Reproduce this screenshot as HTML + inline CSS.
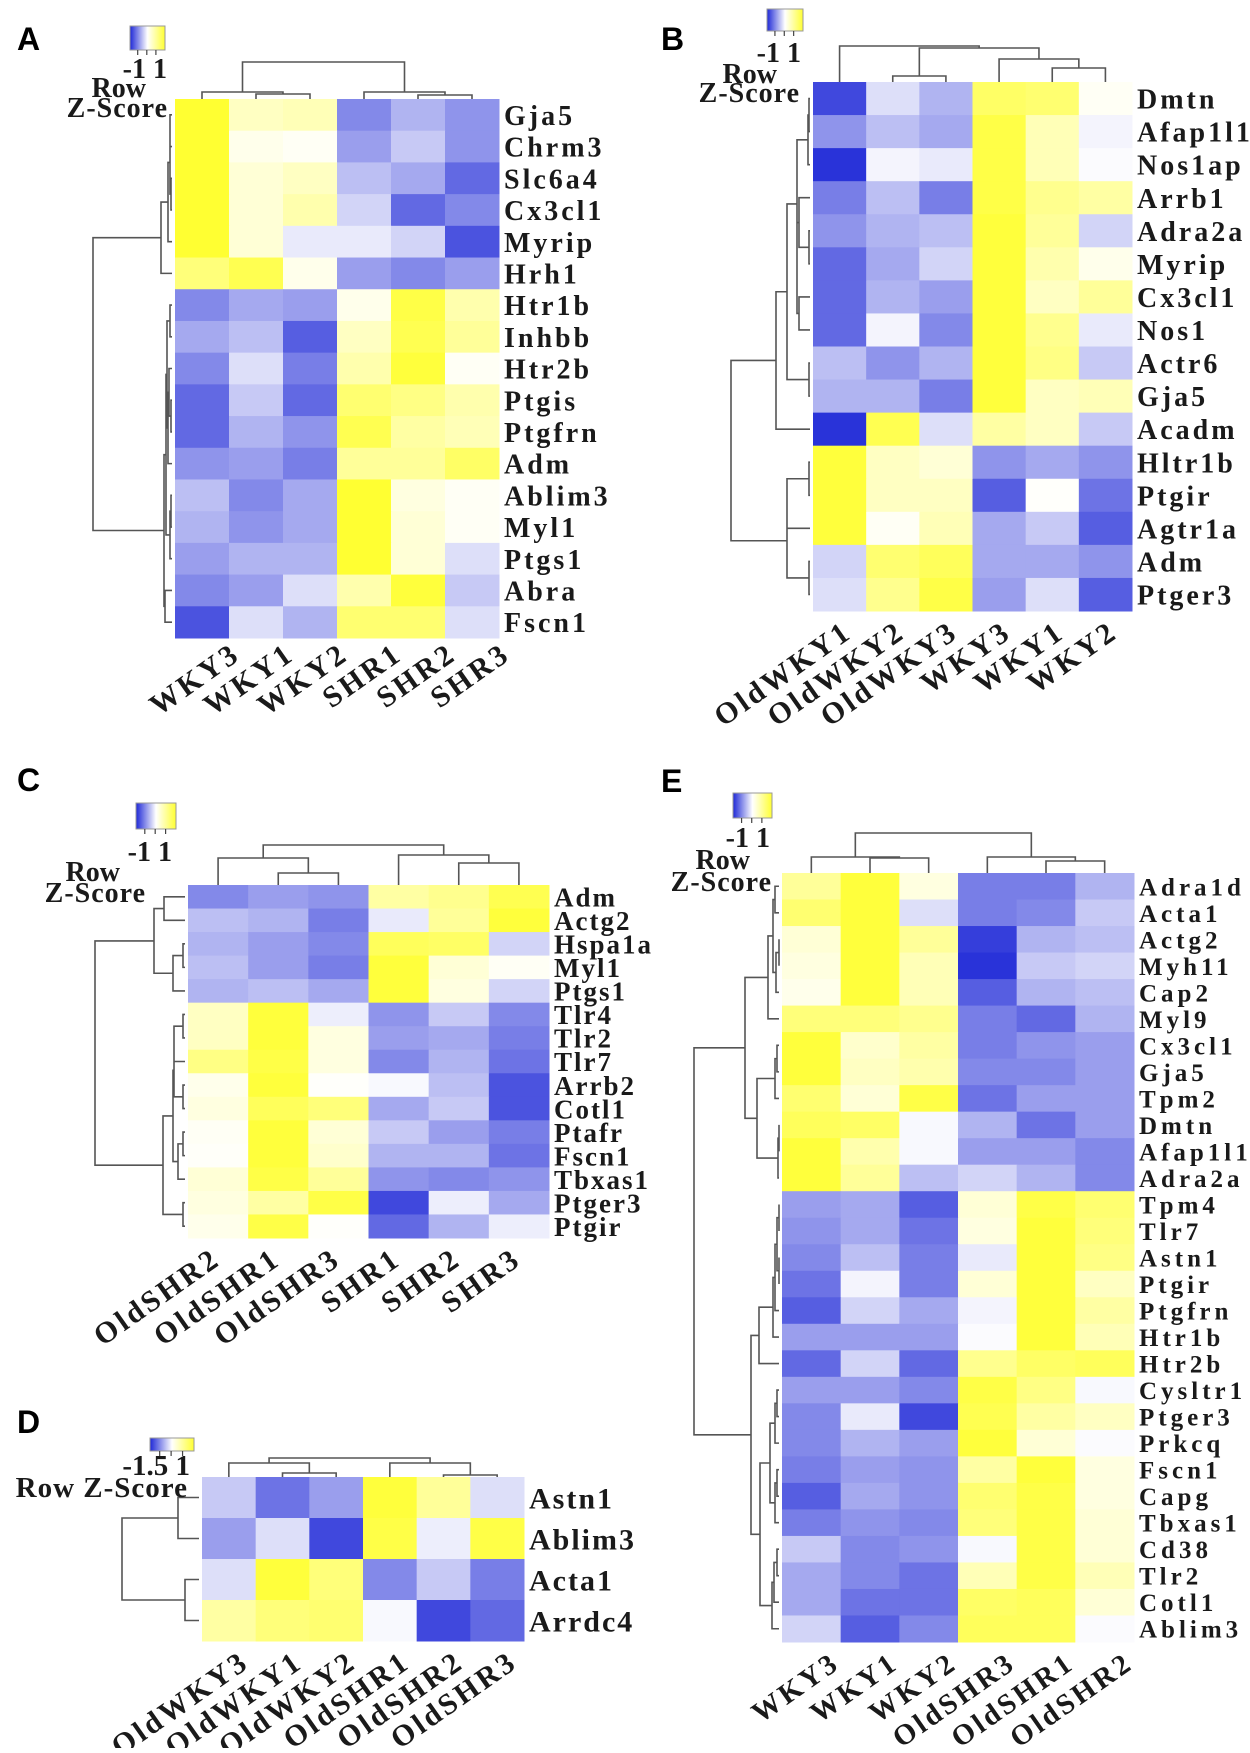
<!DOCTYPE html>
<html><head><meta charset="utf-8"><style>
html,body{margin:0;padding:0;background:#fff;}
svg text{font-family:"Liberation Serif",serif;font-weight:bold;fill:#1a1a1a;}
.pl{font-family:"Liberation Sans",sans-serif !important;fill:#000 !important;}
</style></head><body>
<svg id="fig" xmlns="http://www.w3.org/2000/svg" width="1250" height="1748" viewBox="0 0 1250 1748">
<defs><linearGradient id="zg" x1="0" x2="1" y1="0" y2="0"><stop offset="0" stop-color="#1e28d7"/><stop offset="0.5" stop-color="#ffffff"/><stop offset="1" stop-color="#ffff32"/></linearGradient></defs>
</svg>
<script>
// ---- Panel A data ----
const colsA=["WKY3","WKY1","WKY2","SHR1","SHR2","SHR3"];
const rowsA=["Gja5","Chrm3","Slc6a4","Cx3cl1","Myrip","Hrh1","Htr1b","Inhbb","Htr2b","Ptgis","Ptgfrn","Adm","Ablim3","Myl1","Ptgs1","Abra","Fscn1"];
const valsA=[[1,.3,.35,-.55,-.35,-.5],[1,.1,.05,-.45,-.25,-.5],[1,.2,.3,-.3,-.4,-.7],[1,.2,.4,-.2,-.7,-.55],[1,.2,-.1,-.1,-.2,-.8],[.65,.85,.1,-.45,-.55,-.45],[-.55,-.4,-.45,.1,.9,.4],[-.4,-.3,-.75,.3,.85,.5],[-.55,-.15,-.6,.4,.95,.05],[-.7,-.25,-.7,.7,.6,.4],[-.7,-.35,-.5,.85,.45,.35],[-.5,-.45,-.6,.5,.5,.75],[-.3,-.55,-.4,1,.15,.05],[-.35,-.5,-.4,1,.2,.05],[-.45,-.35,-.35,1,.2,-.15],[-.55,-.45,-.15,.4,.95,-.25],[-.8,-.15,-.35,.7,.7,-.15]];
// ---- Panel B data ----
const colsB=["OldWKY1","OldWKY2","OldWKY3","WKY3","WKY1","WKY2"];
const rowsB=["Dmtn","Afap1l1","Nos1ap","Arrb1","Adra2a","Myrip","Cx3cl1","Nos1","Actr6","Gja5","Acadm","Hltr1b","Ptgir","Agtr1a","Adm","Ptger3"];
const valsB=[[-.85,-.15,-.35,.75,.7,.05],[-.5,-.3,-.4,.9,.35,-.05],[-.95,-.05,-.1,.9,.35,-.02],[-.6,-.3,-.6,.9,.55,.45],[-.5,-.35,-.3,.95,.5,-.2],[-.7,-.4,-.2,.95,.4,.1],[-.7,-.35,-.45,.95,.3,.5],[-.7,-.05,-.55,.95,.55,-.1],[-.3,-.5,-.35,.95,.6,-.25],[-.35,-.35,-.6,.95,.3,.35],[-.95,.85,-.15,.45,.3,-.25],[.95,.3,.2,-.5,-.4,-.5],[.95,.3,.3,-.75,.02,-.65],[.95,.05,.35,-.4,-.25,-.75],[-.2,.7,.8,-.4,-.4,-.5],[-.15,.55,.9,-.45,-.15,-.75]];
// ---- Panel C data ----
const colsC=["OldSHR2","OldSHR1","OldSHR3","SHR1","SHR2","SHR3"];
const rowsC=["Adm","Actg2","Hspa1a","Myl1","Ptgs1","Tlr4","Tlr2","Tlr7","Arrb2","Cotl1","Ptafr","Fscn1","Tbxas1","Ptger3","Ptgir"];
const valsC=[[-.55,-.45,-.5,.45,.55,.85],[-.3,-.35,-.6,-.1,.5,.95],[-.35,-.45,-.55,.8,.75,-.2],[-.3,-.45,-.6,.95,.2,.05],[-.35,-.3,-.4,.95,.15,-.2],[.3,.95,-.08,-.5,-.25,-.55],[.3,.95,.15,-.45,-.4,-.6],[.6,.9,.15,-.55,-.35,-.65],[.1,.95,.02,-.03,-.3,-.8],[.15,.8,.65,-.4,-.25,-.8],[.05,.95,.2,-.25,-.45,-.6],[.03,.95,.25,-.35,-.35,-.65],[.2,.9,.5,-.5,-.55,-.5],[.15,.45,.9,-.85,-.08,-.4],[.1,.9,.02,-.7,-.35,-.08]];
// ---- Panel D data ----
const colsD=["OldWKY3","OldWKY1","OldWKY2","OldSHR1","OldSHR2","OldSHR3"];
const rowsD=["Astn1","Ablim3","Acta1","Arrdc4"];
const valsD=[[-.25,-.65,-.45,.95,.5,-.15],[-.45,-.15,-.85,.9,-.08,.9],[-.15,.95,.65,-.55,-.25,-.6],[.45,.65,.7,-.03,-.85,-.7]];
// ---- Panel E data ----
const colsE=["WKY3","WKY1","WKY2","OldSHR3","OldSHR1","OldSHR2"];
const rowsE=["Adra1d","Acta1","Actg2","Myh11","Cap2","Myl9","Cx3cl1","Gja5","Tpm2","Dmtn","Afap1l1","Adra2a","Tpm4","Tlr7","Astn1","Ptgir","Ptgfrn","Htr1b","Htr2b","Cysltr1","Ptger3","Prkcq","Fscn1","Capg","Tbxas1","Cd38","Tlr2","Cotl1","Ablim3"];
const valsE=[[.5,.95,.15,-.6,-.6,-.35],[.7,.95,-.15,-.6,-.55,-.25],[.2,.95,.5,-.9,-.35,-.3],[.15,.95,.35,-.95,-.25,-.2],[.1,.95,.35,-.75,-.35,-.3],[.65,.65,.55,-.6,-.7,-.35],[.95,.25,.45,-.6,-.5,-.45],[.95,.3,.4,-.55,-.55,-.45],[.7,.2,.9,-.65,-.45,-.45],[.8,.75,-.03,-.35,-.65,-.45],[.95,.4,-.03,-.45,-.45,-.55],[.95,.5,-.3,-.2,-.35,-.55],[-.45,-.4,-.75,.2,.9,.7],[-.5,-.4,-.65,.15,.95,.65],[-.55,-.3,-.6,-.1,.95,.6],[-.65,-.05,-.6,.2,.95,.3],[-.75,-.2,-.4,-.05,.95,.45],[-.45,-.45,-.45,-.02,.95,.35],[-.7,-.2,-.7,.55,.75,.8],[-.45,-.45,-.55,.9,.6,-.03],[-.55,-.1,-.85,.85,.45,.3],[-.55,-.35,-.45,.95,.2,-.02],[-.6,-.45,-.5,.45,.95,.15],[-.75,-.4,-.5,.7,.9,.15],[-.6,-.5,-.55,.65,.9,.2],[-.25,-.55,-.5,-.03,.9,.2],[-.4,-.55,-.65,.35,.9,.35],[-.4,-.65,-.65,.75,.8,.2],[-.2,-.75,-.55,.8,.8,-.02]];

const NS="http://www.w3.org/2000/svg";
const svg=document.getElementById('fig');
function mk(tag,attrs,parent){const e=document.createElementNS(NS,tag);for(const k in attrs)e.setAttribute(k,attrs[k]);(parent||svg).appendChild(e);return e;}
function color(v){v=Math.max(-1,Math.min(1,v));let r,g,b;
 if(v<0){const t=-v;r=255+(30-255)*t;g=255+(40-255)*t;b=255+(215-255)*t;}
 else{const t=v;r=255;g=255;b=255+(50-255)*t;}
 return `rgb(${Math.round(r)},${Math.round(g)},${Math.round(b)})`;}
function dendro(g,leafPos,merges,orient,base){
 const pos=[],crd=[];
 const get=id=>typeof id==='number'?[leafPos[id],base]:[pos[+id.slice(1)],crd[+id.slice(1)]];
 let d='';
 merges.forEach((m,i)=>{const [pa,ca]=get(m[0]);const [pb,cb]=get(m[1]);const c=m[2];
  if(orient==='top'){d+=`M${pa},${ca}V${c}H${pb}V${cb}`;}else{d+=`M${ca},${pa}H${c}V${pb}H${cb}`;}
  pos[i]=(pa+pb)/2;crd[i]=c;});
 const p=mk('path',{d:d,fill:'none',stroke:'#555','stroke-width':1.6},g);
 
 
}
function panel(cfg){
 const g=mk('g',{});
 
 
 const nr=cfg.rows.length,nc=cfg.cols.length;
 const cw=(cfg.x1-cfg.x0)/nc,rh=(cfg.y1-cfg.y0)/nr;
 const xs=i=>cfg.x0+i*cw, ys=j=>cfg.y0+j*rh;
 cfg.vals.forEach((row,j)=>row.forEach((v,i)=>{
  const r=mk('rect',{x:xs(i),y:ys(j),width:cw+0.5,height:rh+0.5,fill:color(v)},g);
  
  
 }));
 cfg.rows.forEach((n,j)=>{
  const t=mk('text',{x:cfg.x1+5,y:ys(j)+rh/2,'dy':'0.36em','font-size':cfg.rf,'letter-spacing':cfg.rls},g);t.textContent=n;
  
  
 });
 cfg.cols.forEach((n,i)=>{
  const ax=xs(i)+cw/2+cfg.cdx, ay=cfg.y1+cfg.cdy;
  const t=mk('text',{x:ax,y:ay,'text-anchor':'end','font-size':cfg.cf,'letter-spacing':cfg.cls,transform:`rotate(-35 ${ax} ${ay})`},g);t.textContent=n;
  
  
 });
 dendro(g,cfg.cols.map((_,i)=>xs(i)+cw/2),cfg.cm,'top',cfg.y0);
 dendro(g,cfg.rows.map((_,j)=>ys(j)+rh/2),cfg.rm,'left',cfg.x0-3);
 const L=cfg.leg;
 const lg=mk('g',{},g);
 
 
 mk('rect',{x:L.bx,y:L.by,width:L.bw,height:L.bh,fill:'url(#zg)',stroke:'#999','stroke-width':1},lg);
 [0.22,0.48,0.74].forEach(f=>mk('line',{x1:L.bx+f*L.bw,x2:L.bx+f*L.bw,y1:L.by+L.bh,y2:L.by+L.bh+5,stroke:'#444','stroke-width':1.2},lg));
 L.texts.forEach(tt=>{const t=mk('text',{x:tt[1],y:tt[2],'text-anchor':'end','font-size':tt[3],'letter-spacing':tt[4]||0},lg);t.textContent=tt[0];});
 const pl=mk('text',{x:cfg.lx,y:cfg.ly,'font-size':32,'class':'pl'},g);pl.textContent=cfg.id;
 
 
}
panel({id:'A',cols:colsA,rows:rowsA,vals:valsA,x0:175,x1:499,y0:99,y1:638,rf:28,rls:3,cf:30,cls:3,cdx:40,cdy:20,lx:17,ly:50,
 cm:[[1,2,94],[0,'m0',92],[4,5,95],[3,'m2',92],['m1','m3',62]],
 rm:[[0,1,170],[2,3,171],['m0','m1',170],['m2',4,168],['m3',5,161],[6,7,170],[9,10,171],[8,'m6',169],['m7',11,168],['m5','m8',167],[12,13,171],['m10',14,170],['m9','m11',166],[15,16,165],['m12','m13',164],['m4','m14',93]],
 leg:{bx:130,by:26,bw:35,bh:24,texts:[["-1 1",167,78,28],["Row",146,97,28],["Z-Score",168,117,28,1]]}});
panel({id:'B',cols:colsB,rows:rowsB,vals:valsB,x0:813,x1:1132,y0:82,y1:611,rf:28,rls:3,cf:30,cls:3,cdx:14,cdy:25,lx:661,ly:50,
 cm:[[4,5,68],[3,'m0',59],[1,2,76],['m2','m1',48],[0,'m3',46]],
 rm:[[0,1,809],['m0',2,808],[4,5,809],[3,'m2',799],[6,7,799],['m3','m4',797],['m1','m5',797],[8,9,809],['m6','m7',787],['m8',10,776],[11,12,809],['m10',13,787],[14,15,809],['m11','m12',787],['m9','m13',731]],
 leg:{bx:767,by:9,bw:36,bh:22,texts:[["-1 1",801,62,28],["Row",777,83,28],["Z-Score",800,102,28,1]]}});
panel({id:'C',cols:colsC,rows:rowsC,vals:valsC,x0:188,x1:549,y0:885,y1:1238,rf:27,rls:2,cf:30,cls:3,cdx:4,cdy:25,lx:17,ly:791,
 cm:[[1,2,873],[0,'m0',858],[4,5,863],[3,'m2',855],['m1','m3',845]],
 rm:[[0,1,164],[2,3,183],['m1',4,173],['m0','m2',154],[5,6,183],['m4',7,174],[8,9,183],['m5','m6',174],[10,11,183],['m8',12,178],['m7','m9',173],[13,14,183],['m10','m11',163],['m3','m12',95]],
 leg:{bx:136,by:803,bw:40,bh:26,texts:[["-1 1",172,861,28],["Row",120,881,28],["Z-Score",146,902,28,1]]}});
panel({id:'D',cols:colsD,rows:rowsD,vals:valsD,x0:202,x1:524,y0:1477,y1:1641,rf:30,rls:2,cf:30,cls:3,cdx:22,cdy:25,lx:17,ly:1433,
 cm:[[1,2,1473],[0,'m0',1463],[4,5,1475],[3,'m2',1463],['m1','m3',1458]],
 rm:[[0,1,178],[2,3,185],['m0','m1',122]],
 leg:{bx:150,by:1438,bw:44,bh:13,texts:[["-1.5 1",190,1475,29],["Row Z-Score",188,1497,29,1]]}});
panel({id:'E',cols:colsE,rows:rowsE,vals:valsE,x0:782,x1:1134,y0:873,y1:1642,rf:25,rls:4,cf:29,cls:3,cdx:30,cdy:25,lx:661,ly:792,
 cm:[[1,2,858],[0,'m0',857],[4,5,861],[3,'m2',857],['m1','m3',833]],
 rm:[[0,1,775],[2,3,779],['m1',4,776],['m0','m2',773],['m3',5,768],[6,7,777],['m5',8,775],[9,10,779],['m7',11,778],['m6','m8',757],['m4','m9',745],[12,13,779],[14,15,779],['m11','m12',777],['m13',16,775],['m14',17,773],['m15',18,759],[19,20,777],['m17',21,775],[22,23,777],['m19',24,775],['m18','m20',770],[25,26,777],['m22',27,774],['m23',28,772],['m21','m24',760],['m16','m25',751],['m10','m26',694]],
 leg:{bx:733,by:793,bw:39,bh:25,texts:[["-1 1",770,847,28],["Row",750,869,28],["Z-Score",772,891,28,1]]}});
</script>
</body></html>
